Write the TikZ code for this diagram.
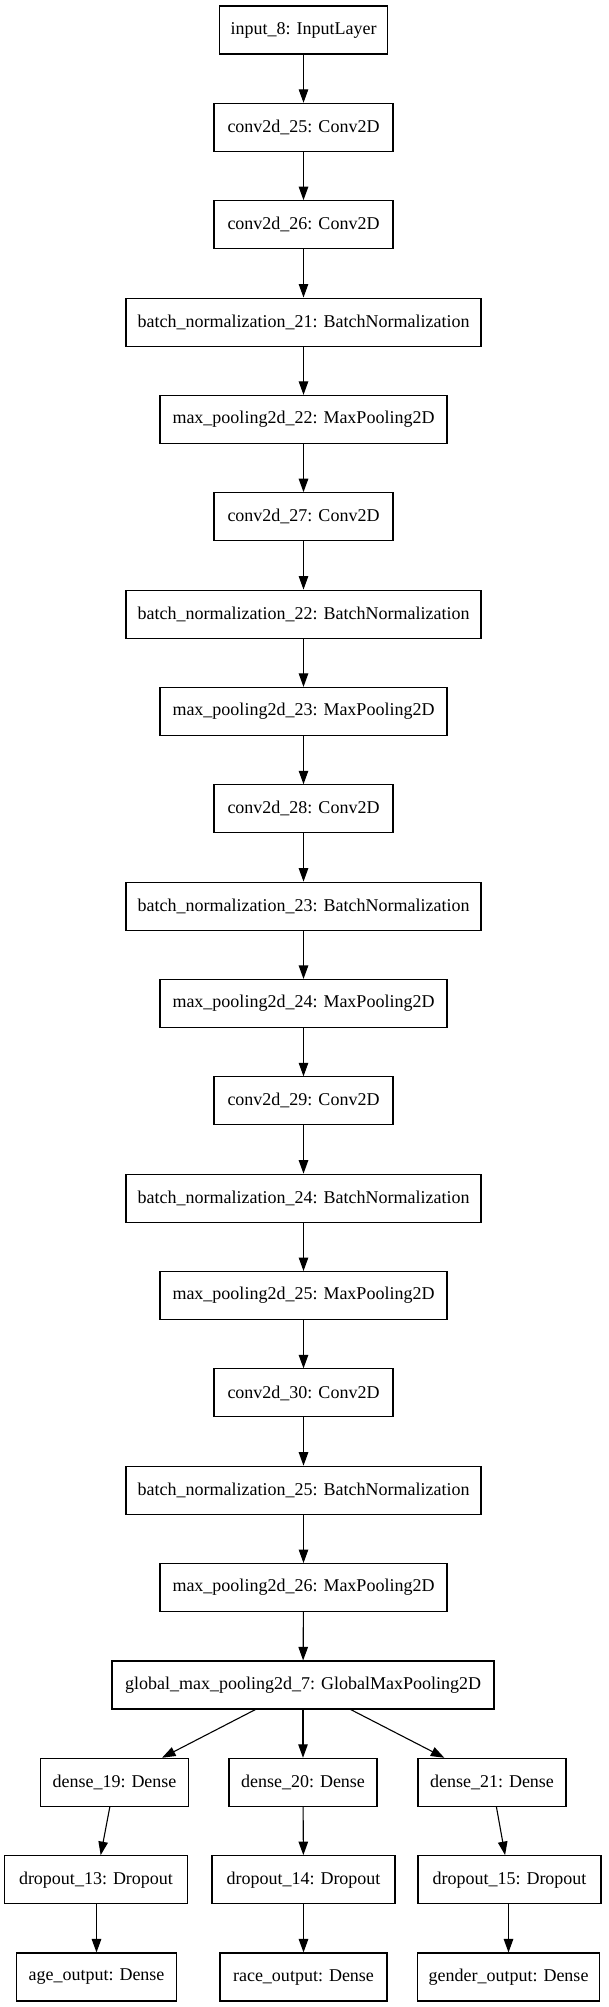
\documentclass[tikz,border=0pt]{standalone}
\usepackage{fontspec}
\newfontfamily\layfont{Liberation Serif}
\usetikzlibrary{arrows.meta}
\tikzset{
  layer/.style={draw, rectangle, line width=1.1pt, minimum height=48pt, inner sep=0pt,
    font=\layfont\fontsize{18}{20}\selectfont, text=black},
  edge/.style={-{Triangle[length=13.5pt,width=9.5pt]}, line width=1.1pt},
  winput/.style={minimum width=168pt},
  wconv/.style={minimum width=179pt},
  wbn/.style={minimum width=355pt},
  wmp/.style={minimum width=287pt},
  wglob/.style={minimum width=382pt},
  wdense/.style={minimum width=148pt},
  wdrop/.style={minimum width=183pt}
}
\begin{document}
\begin{tikzpicture}[x=1pt,y=-1pt]
\useasboundingbox (0,0) rectangle (608,2007);
\node[layer,winput] (n0) at (303.5,30) {input\_8: InputLayer};
\node[layer,wconv] (n1) at (303.5,127.35) {conv2d\_25: Conv2D};
\node[layer,wconv] (n2) at (303.5,224.7) {conv2d\_26: Conv2D};
\node[layer,wbn] (n3) at (303.5,322.05) {batch\_normalization\_21: BatchNormalization};
\node[layer,wmp] (n4) at (303.5,419.4) {max\_pooling2d\_22: MaxPooling2D};
\node[layer,wconv] (n5) at (303.5,516.75) {conv2d\_27: Conv2D};
\node[layer,wbn] (n6) at (303.5,614.1) {batch\_normalization\_22: BatchNormalization};
\node[layer,wmp] (n7) at (303.5,711.45) {max\_pooling2d\_23: MaxPooling2D};
\node[layer,wconv] (n8) at (303.5,808.8) {conv2d\_28: Conv2D};
\node[layer,wbn] (n9) at (303.5,906.15) {batch\_normalization\_23: BatchNormalization};
\node[layer,wmp] (n10) at (303.5,1003.5) {max\_pooling2d\_24: MaxPooling2D};
\node[layer,wconv] (n11) at (303.5,1100.85) {conv2d\_29: Conv2D};
\node[layer,wbn] (n12) at (303.5,1198.2) {batch\_normalization\_24: BatchNormalization};
\node[layer,wmp] (n13) at (303.5,1295.55) {max\_pooling2d\_25: MaxPooling2D};
\node[layer,wconv] (n14) at (303.5,1392.9) {conv2d\_30: Conv2D};
\node[layer,wbn] (n15) at (303.5,1490.25) {batch\_normalization\_25: BatchNormalization};
\node[layer,wmp] (n16) at (303.5,1587.6) {max\_pooling2d\_26: MaxPooling2D};
\node[layer,wglob] (n17) at (303,1684.95) {global\_max\_pooling2d\_7: GlobalMaxPooling2D};
\node[layer,wdense] (d19) at (114.5,1782.3) {dense\_19: Dense};
\node[layer,wdense] (d20) at (303,1782.3) {dense\_20: Dense};
\node[layer,wdense] (d21) at (492,1782.3) {dense\_21: Dense};
\node[layer,wdrop] (p13) at (96,1879.65) {dropout\_13: Dropout};
\node[layer,wdrop] (p14) at (303.5,1879.65) {dropout\_14: Dropout};
\node[layer,wdrop] (p15) at (509.5,1879.65) {dropout\_15: Dropout};
\node[layer,minimum width=160pt] (age) at (96.5,1977) {age\_output: Dense};
\node[layer,minimum width=167pt] (race) at (303.5,1977) {race\_output: Dense};
\node[layer,minimum width=182pt] (gender) at (508.5,1977) {gender\_output: Dense};
\foreach \a/\b in {n0/n1,n1/n2,n2/n3,n3/n4,n4/n5,n5/n6,n6/n7,n7/n8,n8/n9,n9/n10,n10/n11,n11/n12,n12/n13,n13/n14,n14/n15,n15/n16,n16/n17}
  \draw[edge] (\a) -- (\b);
\draw[edge] (n17) -- (d19);
\draw[edge] (n17) -- (d20);
\draw[edge] (n17) -- (d21);
\draw[edge] (d19) -- (p13);
\draw[edge] (d20) -- (p14);
\draw[edge] (d21) -- (p15);
\draw[edge] (p13.south -| age) -- (age);
\draw[edge] (p14) -- (race);
\draw[edge] (p15.south -| gender) -- (gender);
\end{tikzpicture}
\end{document}
